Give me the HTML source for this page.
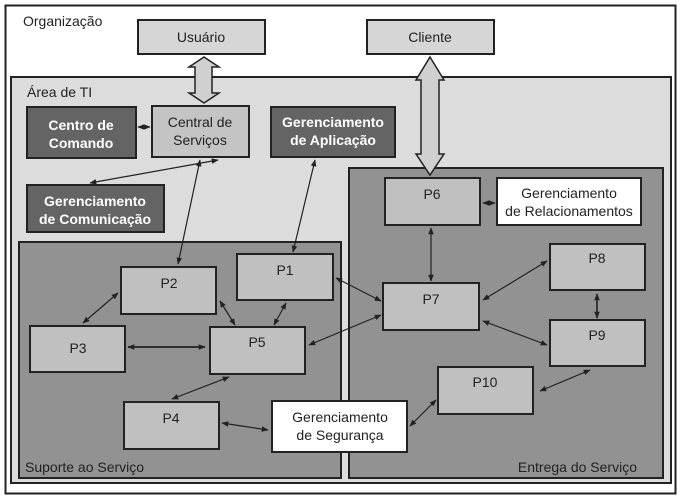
<!DOCTYPE html>
<html><head><meta charset="utf-8"><style>
html,body{margin:0;padding:0;background:#fff}
svg{display:block}
text{font-family:"Liberation Sans",Arial,sans-serif;font-size:14px;fill:#222}
text.w{fill:#fff;font-weight:bold}
</style></head><body>
<svg width="681" height="501" viewBox="0 0 681 501" xmlns="http://www.w3.org/2000/svg">
<defs>
<marker id="a" viewBox="0 0 10 10" refX="9" refY="5" markerWidth="7" markerHeight="7" orient="auto-start-reverse" markerUnits="userSpaceOnUse"><path d="M0,1 L10,5 L0,9 Z" fill="#222"/></marker>
</defs>
<rect x="5.5" y="5.5" width="670" height="488" fill="#fff" stroke="#222" stroke-width="2"/>
<text x="23" y="26">Organização</text>
<rect x="11" y="77" width="660" height="406" fill="#dcdcdc" stroke="#222" stroke-width="2"/>
<text x="27" y="97">Área de TI</text>
<rect x="19" y="242" width="322" height="236" fill="#929292" stroke="#222" stroke-width="2"/>
<rect x="349" y="168" width="314" height="310" fill="#929292" stroke="#222" stroke-width="2"/>
<text x="25" y="472">Suporte ao Serviço</text>
<text x="637" y="472" text-anchor="end">Entrega do Serviço</text>

<g stroke="#222" stroke-width="2">
<rect x="138" y="20" width="127" height="34" fill="#d6d6d6"/>
<rect x="367" y="20" width="127" height="34" fill="#d6d6d6"/>
<rect x="27" y="107" width="109" height="51" fill="#646464"/>
<rect x="152" y="106" width="97" height="51" fill="#c4c4c4"/>
<rect x="271" y="107" width="124" height="50" fill="#646464"/>
<rect x="27" y="185" width="137" height="47" fill="#646464"/>
<rect x="385" y="178" width="95" height="47" fill="#c0c0c0"/>
<rect x="497" y="178" width="144" height="47" fill="#fff"/>
<rect x="550" y="244" width="95" height="46" fill="#c0c0c0"/>
<rect x="383" y="283" width="96" height="47" fill="#c0c0c0"/>
<rect x="550" y="320" width="95" height="46" fill="#c0c0c0"/>
<rect x="438" y="367" width="95" height="47" fill="#c0c0c0"/>
<rect x="121" y="267" width="95" height="47" fill="#c0c0c0"/>
<rect x="237" y="254" width="96" height="46" fill="#c0c0c0"/>
<rect x="30" y="326" width="95" height="46" fill="#c0c0c0"/>
<rect x="210" y="327" width="95" height="47" fill="#c0c0c0"/>
<rect x="124" y="402" width="95" height="47" fill="#c0c0c0"/>
<rect x="272" y="401" width="135" height="51" fill="#fff"/>
</g>

<g fill="#d0d0d0" stroke="#222" stroke-width="1.5">
<path d="M204,57 L219,67 L212,67 L212,93 L219,93 L204,103 L189,93 L195,93 L195,67 L189,67 Z"/>
<path d="M430,57 L444,80 L439,80 L439,154 L444,154 L430,175 L416,154 L421,154 L421,80 L416,80 Z"/>
</g>

<g text-anchor="middle">
<text x="201" y="42">Usuário</text>
<text x="430" y="42">Cliente</text>
<text x="200" y="127">Central de</text>
<text x="200" y="145">Serviços</text>
<text class="w" x="81" y="130">Centro de</text>
<text class="w" x="81" y="148">Comando</text>
<text class="w" x="333" y="127">Gerenciamento</text>
<text class="w" x="333" y="145">de Aplicação</text>
<text class="w" x="95" y="206">Gerenciamento</text>
<text class="w" x="95" y="224">de Comunicação</text>
<text x="432" y="199">P6</text>
<text x="569" y="198">Gerenciamento</text>
<text x="569" y="216">de Relacionamentos</text>
<text x="597" y="263">P8</text>
<text x="431" y="304">P7</text>
<text x="597" y="340">P9</text>
<text x="485" y="387">P10</text>
<text x="169" y="288">P2</text>
<text x="285" y="275">P1</text>
<text x="78" y="353">P3</text>
<text x="257" y="347">P5</text>
<text x="171" y="423">P4</text>
<text x="340" y="422">Gerenciamento</text>
<text x="340" y="440">de Segurança</text>
</g>

<g stroke="#222" stroke-width="1.2" marker-start="url(#a)" marker-end="url(#a)" fill="none">
<line x1="138" y1="127" x2="150" y2="127"/>
<line x1="218" y1="160" x2="90" y2="183"/>
<line x1="200" y1="160" x2="178" y2="264"/>
<line x1="315" y1="160" x2="293" y2="252"/>
<line x1="118" y1="293" x2="83" y2="323"/>
<line x1="220" y1="301" x2="235" y2="325"/>
<line x1="286" y1="303" x2="274" y2="325"/>
<line x1="128" y1="347" x2="205" y2="347" stroke-width="1.8"/>
<line x1="336" y1="278" x2="381" y2="301"/>
<line x1="309" y1="345" x2="381" y2="315"/>
<line x1="229" y1="377" x2="172" y2="399"/>
<line x1="222" y1="423" x2="268" y2="430"/>
<line x1="410" y1="426" x2="436" y2="400"/>
<line x1="540" y1="391" x2="590" y2="370"/>
<line x1="483" y1="300" x2="547" y2="261"/>
<line x1="483" y1="321" x2="547" y2="345"/>
<line x1="597" y1="294" x2="597" y2="318" stroke-width="1.6"/>
<line x1="431" y1="228" x2="431" y2="281"/>
<line x1="483" y1="203" x2="495" y2="203"/>
</g>
</svg>
</body></html>
